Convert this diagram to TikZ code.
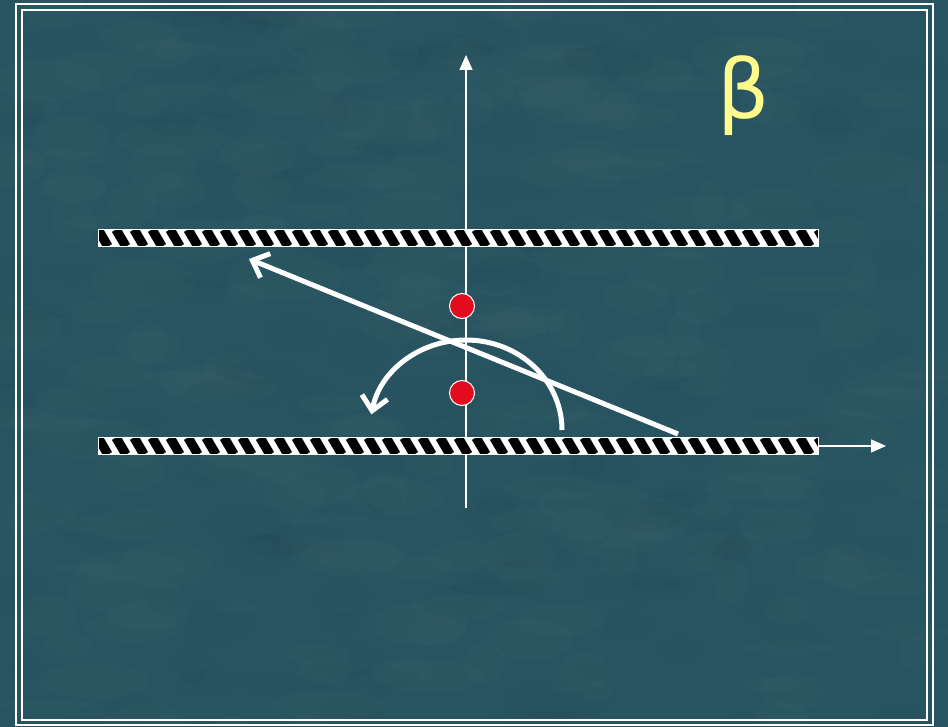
\documentclass[tikz,border=0pt]{standalone}
\usepackage{fontspec}
\newfontfamily\greekfont{DejaVu Sans}
\usetikzlibrary{arrows.meta,positioning}
\definecolor{board}{RGB}{40,84,97}
\definecolor{dotred}{RGB}{226,12,30}
\definecolor{betayellow}{RGB}{255,250,140}

\begin{document}
\begin{tikzpicture}[x=1pt,y=-1pt,
    plate/.style={draw=white, line width=1pt, fill=white, minimum width=720pt, minimum height=17pt, inner sep=0pt,
      path picture={\foreach \k in {-1,...,41}
        \draw[black, line width=9.5pt] ([xshift=\k*18pt]path picture bounding box.north west) -- ++(10pt,-17pt);}},
    axis/.style={white, line width=1.5pt, -{Triangle[length=15pt,width=13pt]}},
    charge/.style={circle, fill=dotred, draw=white, line width=1pt, minimum size=25pt, inner sep=0pt},
    ray/.style={white, line width=5pt, -{Straight Barb[length=14pt,width=26pt,line width=5pt]}}]
  % board and frame
  \useasboundingbox (0,0) rectangle (948,727);
  \clip (0,0) rectangle (948,727);
  \fill[board] (0,0) rectangle (948,727);
  \pgfmathsetseed{7}
  \foreach \k in {1,...,220}
    \fill[white, opacity=0.012] (rnd*948, rnd*727) ellipse[x radius=15+rnd*45, y radius=6+rnd*18];
  \foreach \k in {1,...,140}
    \fill[black, opacity=0.02] (rnd*948, rnd*727) ellipse[x radius=15+rnd*40, y radius=6+rnd*15];
  \draw[white, line width=2pt] (16,4) rectangle (933,725);
  \draw[white, line width=2pt] (22,10) rectangle (927,720);

  \coordinate (ytip) at (466,55);
  \coordinate (ybase) at (466,508);
  \draw[axis] (ybase) -- (ytip);

  \node[plate] (upper) at (458,238) {};
  \node[plate] (lower) at (458,446) {};
  \coordinate (xtip) at (886,446);
  \draw[axis] (lower.east) -- (xtip);

  \node[charge] (qa) at (462,306) {};
  \node[charge] (qb) at (462,393) {};

  \coordinate (hit) at (678,434);
  \coordinate (exit) at (249,259);
  \draw[ray] (hit) -- (exit);
  \coordinate (swing) at (562,430);
  \draw[ray] (swing) arc[start angle=0, end angle=170, x radius=96pt, y radius=90pt];

  \node[text=betayellow, font=\greekfont\fontsize{82}{82}\selectfont] (beta) at (744,96) {β};
\end{tikzpicture}
\end{document}
